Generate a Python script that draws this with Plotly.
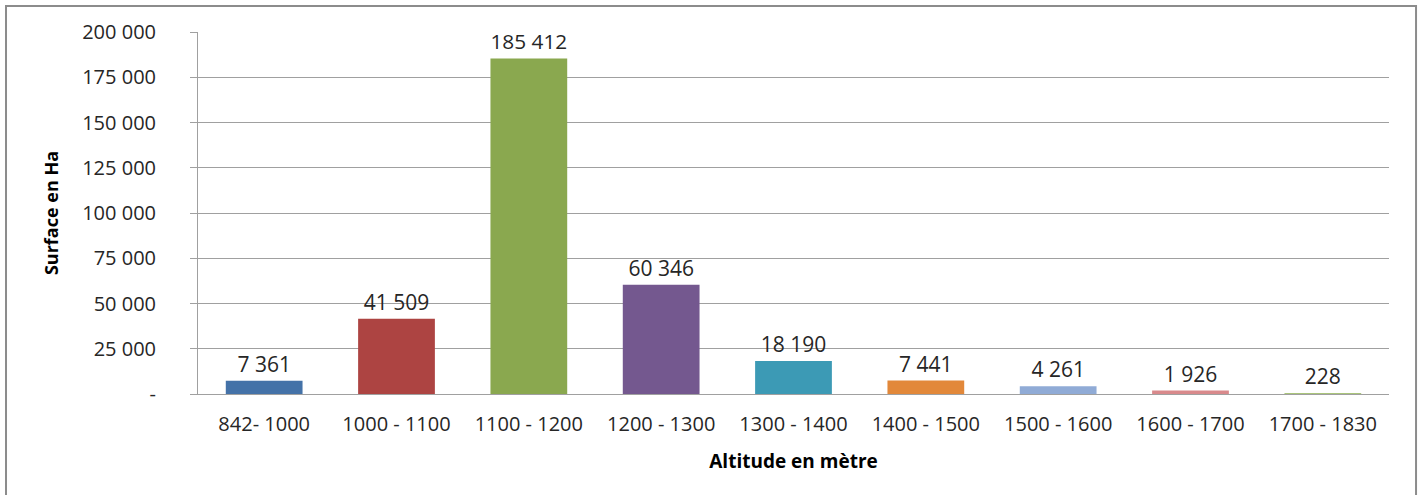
"""Surface par tranche d'altitude."""

import plotly.graph_objects as go

categories = ["842- 1000", "1000 - 1100", "1100 - 1200", "1200 - 1300", "1300 - 1400",
              "1400 - 1500", "1500 - 1600", "1600 - 1700", "1700 - 1830"]
surface_ha = [7361, 41509, 185412, 60346, 18190, 7441, 4261, 1926, 228]
bar_colors = ["#4472a8", "#ad4442", "#8aa84f", "#74588f", "#3c9ab5",
              "#e2883a", "#90abd6", "#d98a8c", "#a9c47a"]
y_ticks = [0, 25000, 50000, 75000, 100000, 125000, 150000, 175000, 200000]
y_ticktext = ["-"] + [f"{v:,}".replace(",", " ") for v in y_ticks[1:]]

FONT = "Open Sans, Liberation Sans, sans-serif"

fig = go.Figure(
    go.Bar(
        x=categories,
        y=surface_ha,
        marker=dict(color=bar_colors, line=dict(width=0)),
        text=[f"{v:,}".replace(",", " ") for v in surface_ha],
        textposition="outside",
        textfont=dict(size=21, color="#262626", family=FONT),
        cliponaxis=False,
    )
)

fig.update_layout(
    width=1421,
    height=495,
    margin=dict(l=198, r=32, t=32, b=101),
    plot_bgcolor="white",
    paper_bgcolor="white",
    bargap=0.42,
    showlegend=False,
    font=dict(family=FONT, size=20, color="#262626"),
    shapes=[
        dict(type="rect", xref="paper", yref="paper", x0=-0.1612, x1=1.0227, y0=-0.40, y1=1.0718,
             line=dict(color="#8c8c8c", width=2), fillcolor="rgba(0,0,0,0)", layer="below"),
    ],
)

fig.update_yaxes(
    range=[0, 200000],
    tickvals=y_ticks,
    ticktext=y_ticktext,
    showgrid=True,
    gridcolor="#a0a0a0",
    gridwidth=1,
    showline=True,
    linecolor="#a0a0a0",
    ticks="outside",
    ticklen=7,
    tickcolor="#a0a0a0",
    ticklabelstandoff=30,
    tickfont=dict(size=20),
    zeroline=False,
    title=dict(text="<b>Surface en Ha</b>", font=dict(size=18, color="#000000"), standoff=18),
)

fig.update_xaxes(
    showline=True,
    linecolor="#a0a0a0",
    tickfont=dict(size=20),
    ticklabelstandoff=12,
    title=dict(text="<b>Altitude en mètre</b>", font=dict(size=19, color="#000000"), standoff=18),
)

fig.write_html("out.html", config={"displayModeBar": False},
               post_script="document.body.style.margin='0';")
